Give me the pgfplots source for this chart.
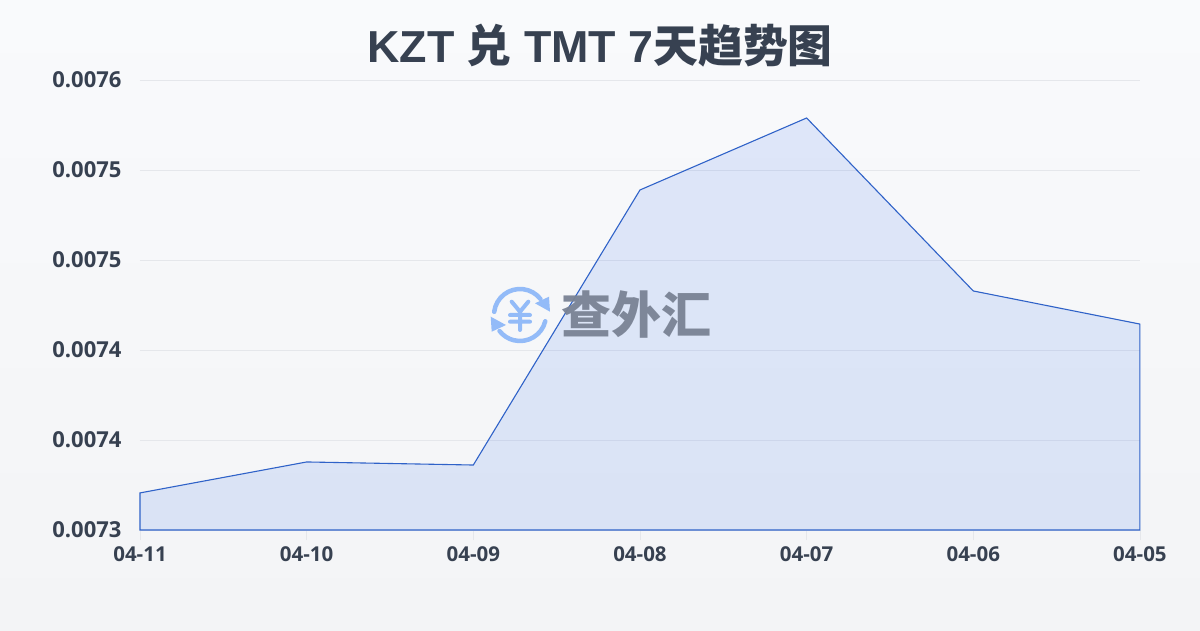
\documentclass[border=0pt]{standalone}
\usepackage{pgfplots}
\pgfplotsset{compat=1.18}
\usepackage{fontspec}
\setmainfont{Noto Sans}
\newfontfamily\labelfont{Open Sans}[BoldFont={Open Sans Bold}]
\newfontfamily\titlefont{Liberation Sans}
\newfontfamily\cjk{Noto Sans CJK SC}
\definecolor{bgtop}{HTML}{F9FAFC}
\definecolor{bgbot}{HTML}{F3F4F6}
\definecolor{txt}{HTML}{374151}
\definecolor{gridc}{HTML}{E5E7EB}
\definecolor{lineblue}{HTML}{2F62C8}
\definecolor{areablue}{HTML}{2563EB}
\definecolor{iconblue}{HTML}{93BBF8}
\definecolor{wmgray}{HTML}{7A8394}
\pgfplotstableread{
x y
0 0.0073706
1 0.0073878
2 0.0073861
3 0.0075389
4 0.0075789
5 0.0074828
6 0.0074644
}\trend
\begin{document}
\begin{tikzpicture}[x=1pt,y=1pt]
\shade[top color=bgtop,bottom color=bgbot,draw=none] (0,0) rectangle (1200,630);
\begin{axis}[
  at={(140pt,100pt)},anchor=origin,
  scale only axis,width=1000pt,height=450pt,
  xmin=0,xmax=6,ymin=0.00735,ymax=0.0076,
  axis line style={draw=none},
  xtick={0,1,2,3,4,5,6},
  xticklabels={{\labelfont\bfseries 04-11},{\labelfont\bfseries 04-10},{\labelfont\bfseries 04-09},{\labelfont\bfseries 04-08},{\labelfont\bfseries 04-07},{\labelfont\bfseries 04-06},{\labelfont\bfseries 04-05}},
  ytick={0.00735,0.0074,0.00745,0.0075,0.00755,0.0076},
  yticklabels={{\labelfont\bfseries 0.0073},{\labelfont\bfseries 0.0074},{\labelfont\bfseries 0.0074},{\labelfont\bfseries 0.0075},{\labelfont\bfseries 0.0075},{\labelfont\bfseries 0.0076}},
  scaled y ticks=false,
  ymajorgrids,
  major grid style={gridc,line width=0.8pt},
  tick align=outside,
  xtick pos=lower,
  major tick length=10pt,
  xtick style={gridc,line width=0.8pt},
  ytick style={draw=none},
  xticklabel style={font=\fontsize{20.5}{24}\selectfont,text=txt,yshift=-3pt},
  yticklabel style={font=\fontsize{22}{26}\selectfont,text=txt,anchor=east,xshift=-5pt},
  clip=false,
]
\addplot[draw=lineblue,line width=1.1pt,fill=areablue,fill opacity=0.12,draw opacity=1] table[x=x,y=y]{\trend} \closedcycle;
\end{axis}
\node[font=\fontsize{44.8}{50}\selectfont\bfseries,text=txt,anchor=center] at (600,584) {\titlefont KZT {\cjk 兑} TMT 7{\cjk 天趋势图}};
% watermark
\begin{scope}[line cap=round]
\draw[iconblue,line width=4.5pt] (520,315)++(173:26) arc (173:38:26);
\draw[iconblue,line width=4.5pt] (520,315)++(-14:26) arc (-14:-142:26);
\fill[iconblue] (550,318.3) -- (549,333.3) -- (535,326.7) -- cycle;
\fill[iconblue] (490.7,313.3) -- (491.7,298.3) -- (506,305) -- cycle;
\draw[iconblue,line width=4pt] (511.7,328.3) -- (520,318.3) -- (528.3,328.3) (520,318.3) -- (520,300) (510,315) -- (530,315) (510,308.3) -- (530,308.3);
\end{scope}
\node[font=\fontsize{50}{54}\selectfont\bfseries,text=wmgray,anchor=center,opacity=0.95] at (636,315) {\cjk 查外汇};
\end{tikzpicture}
\end{document}
